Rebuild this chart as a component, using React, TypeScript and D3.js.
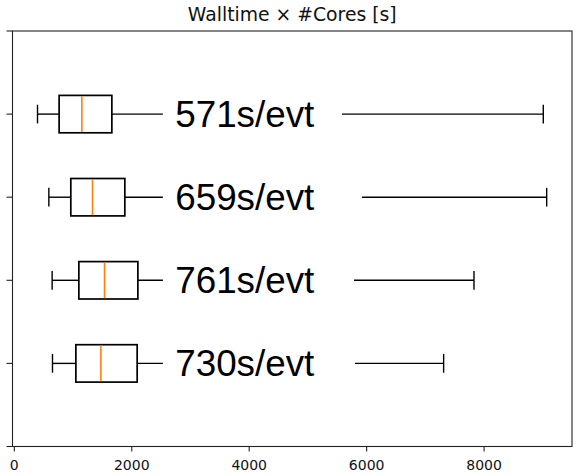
import React from 'react';
import * as d3 from 'd3';

// box statistics (seconds)
const labels = ['571s/evt', '659s/evt', '761s/evt', '730s/evt'];
const mins = [395, 588, 644, 650];
const q1s = [763, 962, 1099, 1048];
const medians = [1150, 1332, 1536, 1474];
const q3s = [1661, 1882, 2104, 2092];
const maxs = [9008, 9066, 7828, 7311];
// where the white label box covers the upper whisker
const labelBoxStart = [2530, 2530, 2530, 2530];
const labelBoxEnd = [5579, 5920, 5784, 5801];
const labelAt = 2740;
const xTicks = [0, 2000, 4000, 6000, 8000];
const yTicks = [0, 1, 2, 3, 4, 5];

const W = 577;
const H = 476;
const margin = { top: 31, right: 5, bottom: 29.5, left: 12.5 };

const App = () => {
  const x = d3.scaleLinear().domain([-31, 9497]).range([margin.left, W - margin.right]);
  const y = d3.scaleLinear().domain([0, 5]).range([margin.top, H - margin.bottom]);
  const boxW = 0.45;
  const capW = boxW / 2;
  const stroke = '#000';

  return (
    <svg width={W} height={H} style={{ position: 'absolute', left: 0, top: 0, background: '#fff' }}>
      <rect x={0} y={0} width={W} height={H} fill="#fff" />
      {labels.map((lab, i) => {
        const c = i + 1;
        const yc = y(c);
        return (
          <g key={lab}>
            {/* whiskers */}
            <line x1={x(mins[i])} x2={x(q1s[i])} y1={yc} y2={yc} stroke={stroke} strokeWidth={1.4} />
            <line x1={x(q3s[i])} x2={x(maxs[i])} y1={yc} y2={yc} stroke={stroke} strokeWidth={1.4} />
            <line x1={x(mins[i])} x2={x(mins[i])} y1={y(c - capW / 2)} y2={y(c + capW / 2)} stroke={stroke} strokeWidth={1.4} />
            <line x1={x(maxs[i])} x2={x(maxs[i])} y1={y(c - capW / 2)} y2={y(c + capW / 2)} stroke={stroke} strokeWidth={1.4} />
            {/* box */}
            <rect
              x={x(q1s[i])}
              y={y(c - boxW / 2)}
              width={x(q3s[i]) - x(q1s[i])}
              height={y(c + boxW / 2) - y(c - boxW / 2)}
              fill="none"
              stroke={stroke}
              strokeWidth={1.7}
            />
            <line x1={x(medians[i])} x2={x(medians[i])} y1={y(c - boxW / 2) + 0.8} y2={y(c + boxW / 2) - 0.8} stroke="#ff7f0e" strokeWidth={1.6} />
            {/* label with white background */}
            <rect
              x={x(labelBoxStart[i])}
              y={yc - 22}
              width={x(labelBoxEnd[i]) - x(labelBoxStart[i])}
              height={44}
              fill="#fff"
            />
            <text
              x={x(labelAt)}
              y={yc + 13}
              fontFamily="'Liberation Sans', Arial, sans-serif"
              fontSize={36.8}
              fill="#000"
            >
              {lab}
            </text>
          </g>
        );
      })}

      {/* frame */}
      <rect
        x={margin.left}
        y={margin.top}
        width={W - margin.right - margin.left}
        height={H - margin.bottom - margin.top}
        fill="none"
        stroke="#222"
        strokeWidth={1.1}
      />

      {/* y ticks */}
      {yTicks.map(t => (
        <line key={t} x1={margin.left - 6} x2={margin.left} y1={y(t)} y2={y(t)} stroke="#222" strokeWidth={1.1} />
      ))}

      {/* x ticks */}
      {xTicks.map(t => (
        <g key={t} transform={`translate(${x(t)},${H - margin.bottom})`}>
          <line y1={0} y2={5} stroke="#222" strokeWidth={1.1} />
          <text
            y={23.5}
            textAnchor="middle"
            fontFamily="'DejaVu Sans', sans-serif"
            fontSize={14}
            fill="#111"
          >
            {t}
          </text>
        </g>
      ))}

      <text
        x={(margin.left + W - margin.right) / 2}
        y={21}
        textAnchor="middle"
        fontFamily="'DejaVu Sans', sans-serif"
        fontSize={18.8}
        fill="#111"
      >
        Walltime × #Cores [s]
      </text>
    </svg>
  );
};

export default App;
